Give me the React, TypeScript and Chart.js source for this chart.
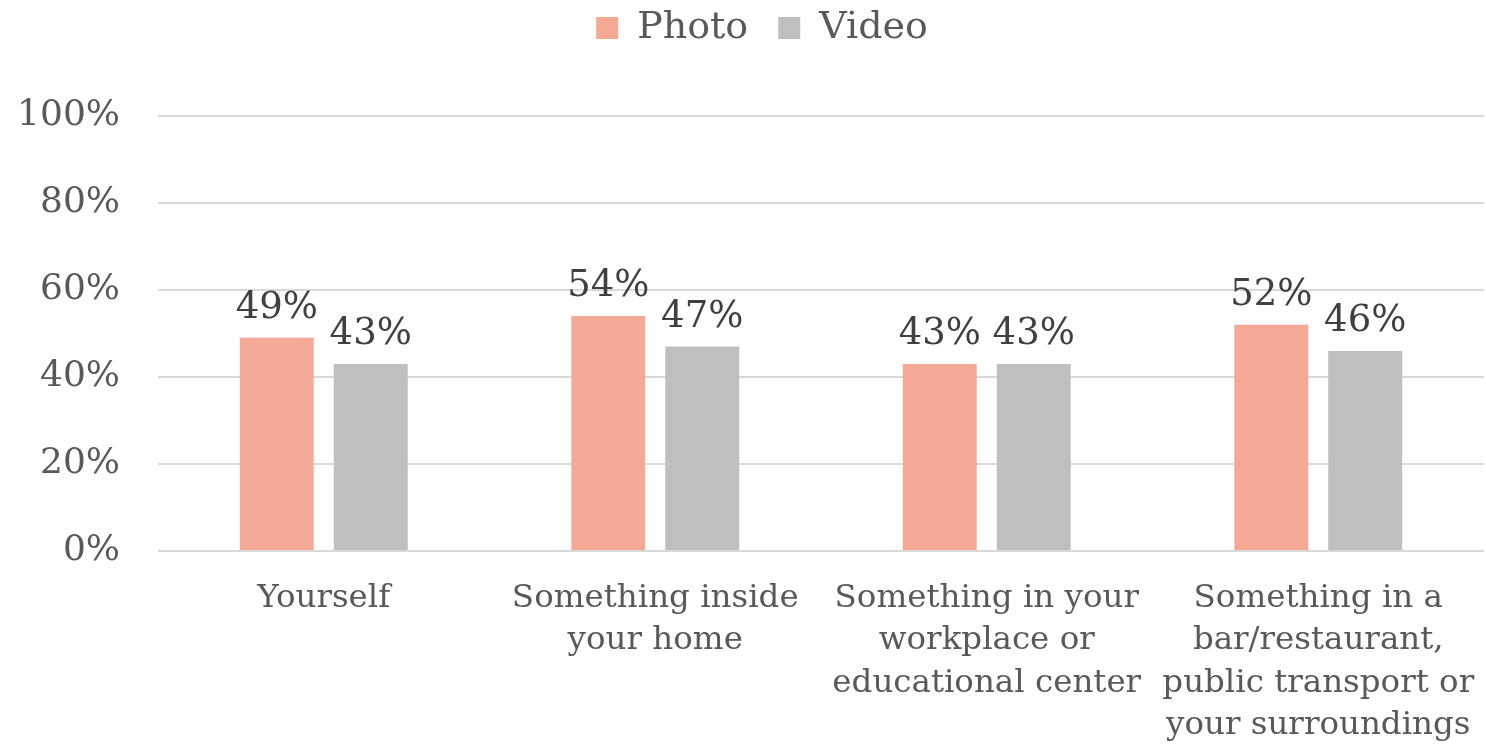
import React, { useEffect, useRef } from "react";
import { Chart, registerables } from "chart.js";

Chart.register(...registerables);

const categories: string[][] = [
  ["Yourself"],
  ["Something inside", "your home"],
  ["Something in your", "workplace or", "educational center"],
  ["Something in a", "bar/restaurant,", "public transport or", "your surroundings"],
];
const photoValues = [49, 54, 43, 52];
const videoValues = [43, 47, 43, 46];
const yTicks = [0, 20, 40, 60, 80, 100];

const FONT = "'DejaVu Serif', serif";

const dataLabelPlugin = {
  id: "dataLabels",
  afterDatasetsDraw(chart: any) {
    const ctx = chart.ctx;
    ctx.save();
    ctx.font = `37px ${FONT}`;
    ctx.fillStyle = "#404040";
    ctx.textAlign = "center";
    ctx.textBaseline = "bottom";
    chart.data.datasets.forEach((ds: any, i: number) => {
      const meta = chart.getDatasetMeta(i);
      meta.data.forEach((bar: any, j: number) => {
        ctx.fillText(`${ds.data[j]}%`, bar.x, bar.y - 11);
      });
    });
    ctx.restore();
  },
};

const legendSizePlugin = {
  id: "legendSize",
  beforeLayout(chart: any) {
    const lg = chart.legend;
    if (lg && !lg.__patched) {
      const orig = lg.fit;
      lg.fit = function () {
        orig.call(this);
        this.height = 116;
      };
      lg.__patched = true;
    }
  },
  afterLayout(chart: any) {
    const lg = chart.legend;
    if (lg) {
      lg.top = lg.top - 21;
      lg.left = lg.left + 20;
      lg.right = lg.right + 20;
    }
  },
};

export default function App() {
  const ref = useRef<HTMLCanvasElement>(null);
  useEffect(() => {
    document.body.style.margin = "0";
    const chart = new Chart(ref.current!, {
      type: "bar",
      data: {
        labels: categories,
        datasets: [
          { label: "Photo", data: photoValues, backgroundColor: "#F4A997" },
          { label: "Video", data: videoValues, backgroundColor: "#BFBFBF" },
        ],
      },
      plugins: [dataLabelPlugin, legendSizePlugin],
      options: {
        animation: false,
        responsive: false,
        layout: { padding: { left: 0, right: 2, top: 0, bottom: 0 } },
        datasets: { bar: { categoryPercentage: 0.567, barPercentage: 0.787 } },
        plugins: {
          legend: {
            position: "top",
            labels: {
              font: { family: FONT, size: 38 },
              color: "#595959",
              boxWidth: 22,
              boxHeight: 22,
              padding: 30,
            },
          },
          tooltip: { enabled: false },
        },
        scales: {
          x: {
            grid: { display: false },
            border: { display: false },
            afterFit: (axis: any) => {
              axis.height = 193;
              axis.paddingLeft = 0;
              axis.paddingRight = 0;
            },
            ticks: {
              color: "#595959",
              font: { family: FONT, size: 32.5, lineHeight: 1.31 },
              maxRotation: 0,
              autoSkip: false,
              padding: 18,
            },
          },
          y: {
            min: 0,
            max: 100,
            afterBuildTicks: (axis: any) => {
              axis.ticks = yTicks.map((v) => ({ value: v }));
            },
            afterFit: (axis: any) => {
              axis.width = 158;
              axis.paddingTop = 0;
              axis.paddingBottom = 0;
            },
            grid: { color: "#D9D9D9", lineWidth: 2, drawTicks: false },
            border: { display: false },
            ticks: {
              color: "#595959",
              font: { family: FONT, size: 36 },
              padding: 38,
              callback: (v: any) => `${v}%`,
            },
          },
        },
      },
    });
    return () => chart.destroy();
  }, []);
  return (
    <div style={{ width: 1486, height: 744 }}>
      <canvas ref={ref} width={1486} height={744} style={{ width: 1486, height: 744 }} />
    </div>
  );
}
